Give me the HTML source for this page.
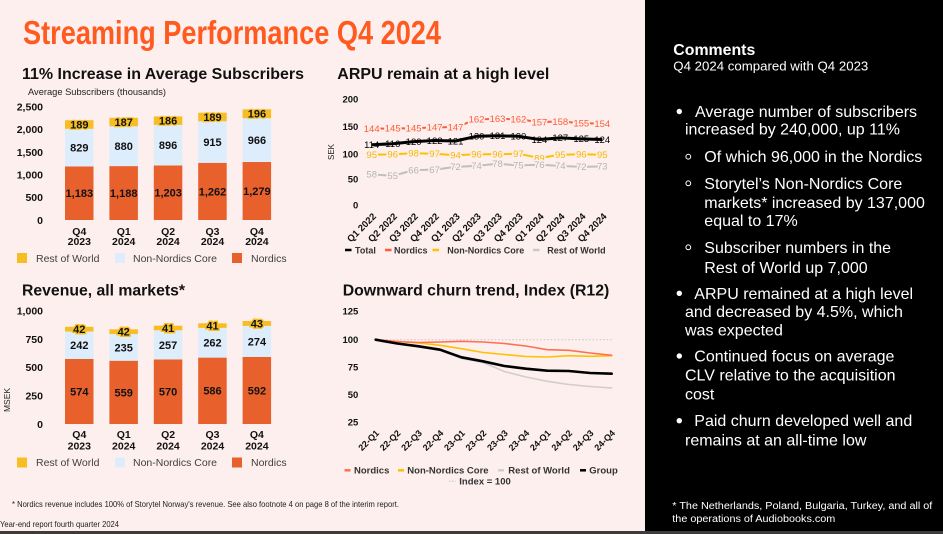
<!DOCTYPE html>
<html><head><meta charset="utf-8"><style>
html,body{margin:0;padding:0;background:#fdefee;}
svg{display:block;font-family:"Liberation Sans",Arial,sans-serif;}
.b{font-weight:bold;}
</style></head><body>
<svg width="943" height="534" viewBox="0 0 943 534" xmlns="http://www.w3.org/2000/svg">
<rect x="0" y="0" width="943" height="534" fill="#fdefee"/>
<!-- Main title -->
<text x="23" y="44" font-size="33" class="b" fill="#ff5a1f" textLength="418" lengthAdjust="spacingAndGlyphs">Streaming Performance Q4 2024</text>

<!-- ===== Subscribers chart ===== -->
<text x="22" y="79" font-size="16" class="b" fill="#111" textLength="282" lengthAdjust="spacingAndGlyphs">11% Increase in Average Subscribers</text>
<text x="28" y="95" font-size="9.3" fill="#222" textLength="138" lengthAdjust="spacingAndGlyphs">Average Subscribers (thousands)</text>
<g font-size="10.5" class="b" fill="#111" text-anchor="end">
<text x="43" y="110.5">2,500</text>
<text x="43" y="133.2">2,000</text>
<text x="43" y="155.9">1,500</text>
<text x="43" y="178.6">1,000</text>
<text x="43" y="201.2">500</text>
<text x="43" y="223.9">0</text>
</g>
<g>
<rect x="65" y="166.4" width="28.5" height="53.6" fill="#e8612d"/>
<rect x="65" y="128.8" width="28.5" height="37.6" fill="#deedfb"/>
<rect x="65" y="120.2" width="28.5" height="8.6" fill="#f6be22"/>
<rect x="109.4" y="166.1" width="28.5" height="53.9" fill="#e8612d"/>
<rect x="109.4" y="126.3" width="28.5" height="39.8" fill="#deedfb"/>
<rect x="109.4" y="117.8" width="28.5" height="8.5" fill="#f6be22"/>
<rect x="153.8" y="165.5" width="28.5" height="54.5" fill="#e8612d"/>
<rect x="153.8" y="124.9" width="28.5" height="40.6" fill="#deedfb"/>
<rect x="153.8" y="116.4" width="28.5" height="8.5" fill="#f6be22"/>
<rect x="198.2" y="162.8" width="28.5" height="57.2" fill="#e8612d"/>
<rect x="198.2" y="121.3" width="28.5" height="41.5" fill="#deedfb"/>
<rect x="198.2" y="112.7" width="28.5" height="8.6" fill="#f6be22"/>
<rect x="242.6" y="162.0" width="28.5" height="58.0" fill="#e8612d"/>
<rect x="242.6" y="118.2" width="28.5" height="43.8" fill="#deedfb"/>
<rect x="242.6" y="109.3" width="28.5" height="8.9" fill="#f6be22"/>
</g>
<g font-size="11" class="b" fill="#111" text-anchor="middle">
<text x="79.3" y="128.4" stroke="#f6be22" stroke-width="2.5" paint-order="stroke">189</text>
<text x="79.3" y="151.5">829</text>
<text x="79.3" y="197.1">1,183</text>
<text x="123.7" y="125.9" stroke="#f6be22" stroke-width="2.5" paint-order="stroke">187</text>
<text x="123.7" y="150.1">880</text>
<text x="123.7" y="196.9">1,188</text>
<text x="168.1" y="124.5" stroke="#f6be22" stroke-width="2.5" paint-order="stroke">186</text>
<text x="168.1" y="149.1">896</text>
<text x="168.1" y="196.6">1,203</text>
<text x="212.5" y="120.9" stroke="#f6be22" stroke-width="2.5" paint-order="stroke">189</text>
<text x="212.5" y="145.9">915</text>
<text x="212.5" y="195.3">1,262</text>
<text x="256.9" y="117.6" stroke="#f6be22" stroke-width="2.5" paint-order="stroke">196</text>
<text x="256.9" y="144.0">966</text>
<text x="256.9" y="194.9">1,279</text>
</g>
<g font-size="10.5" class="b" fill="#111" text-anchor="middle">
<text x="79.3" y="234.8">Q4</text><text x="79.3" y="245.2">2023</text>
<text x="123.7" y="234.8">Q1</text><text x="123.7" y="245.2">2024</text>
<text x="168.1" y="234.8">Q2</text><text x="168.1" y="245.2">2024</text>
<text x="212.5" y="234.8">Q3</text><text x="212.5" y="245.2">2024</text>
<text x="256.9" y="234.8">Q4</text><text x="256.9" y="245.2">2024</text>
</g>
<rect x="17" y="253" width="10" height="10" fill="#f6be22"/>
<rect x="115" y="253" width="10" height="10" fill="#deedfb"/>
<rect x="232" y="253" width="10" height="10" fill="#e8612d"/>
<g font-size="10.5" fill="#404040">
<text x="36" y="261.8">Rest of World</text>
<text x="133" y="261.8">Non-Nordics Core</text>
<text x="251" y="261.8">Nordics</text>
</g>

<!-- ===== Revenue chart ===== -->
<text x="22" y="295.3" font-size="16" class="b" fill="#111" textLength="163" lengthAdjust="spacingAndGlyphs">Revenue, all markets*</text>
<g font-size="10.5" class="b" fill="#111" text-anchor="end">
<text x="43" y="314.5">1,000</text>
<text x="43" y="342.8">750</text>
<text x="43" y="371.1">500</text>
<text x="43" y="399.5">250</text>
<text x="43" y="427.8">0</text>
</g>
<text transform="translate(10,400) rotate(-90)" font-size="8.5" fill="#222" text-anchor="middle">MSEK</text>
<g>
<rect x="65" y="359.0" width="28.5" height="65.0" fill="#e8612d"/>
<rect x="65" y="331.5" width="28.5" height="27.5" fill="#deedfb"/>
<rect x="65" y="326.8" width="28.5" height="4.7" fill="#f6be22"/>
<rect x="109.4" y="360.7" width="28.5" height="63.3" fill="#e8612d"/>
<rect x="109.4" y="334.0" width="28.5" height="26.7" fill="#deedfb"/>
<rect x="109.4" y="329.3" width="28.5" height="4.7" fill="#f6be22"/>
<rect x="153.8" y="359.4" width="28.5" height="64.6" fill="#e8612d"/>
<rect x="153.8" y="330.3" width="28.5" height="29.1" fill="#deedfb"/>
<rect x="153.8" y="325.7" width="28.5" height="4.6" fill="#f6be22"/>
<rect x="198.2" y="357.6" width="28.5" height="66.4" fill="#e8612d"/>
<rect x="198.2" y="327.9" width="28.5" height="29.7" fill="#deedfb"/>
<rect x="198.2" y="323.3" width="28.5" height="4.6" fill="#f6be22"/>
<rect x="242.6" y="356.9" width="28.5" height="67.1" fill="#e8612d"/>
<rect x="242.6" y="325.9" width="28.5" height="31.0" fill="#deedfb"/>
<rect x="242.6" y="321.0" width="28.5" height="4.9" fill="#f6be22"/>
</g>
<g font-size="11" class="b" fill="#111" text-anchor="middle">
<text x="79.3" y="333.1" stroke="#f6be22" stroke-width="3" paint-order="stroke">42</text>
<text x="79.3" y="349.2">242</text>
<text x="79.3" y="395.4">574</text>
<text x="123.7" y="335.6" stroke="#f6be22" stroke-width="3" paint-order="stroke">42</text>
<text x="123.7" y="351.3">235</text>
<text x="123.7" y="396.3">559</text>
<text x="168.1" y="331.9" stroke="#f6be22" stroke-width="3" paint-order="stroke">41</text>
<text x="168.1" y="348.8">257</text>
<text x="168.1" y="395.6">570</text>
<text x="212.5" y="329.5" stroke="#f6be22" stroke-width="3" paint-order="stroke">41</text>
<text x="212.5" y="346.7">262</text>
<text x="212.5" y="394.7">586</text>
<text x="256.9" y="327.4" stroke="#f6be22" stroke-width="3" paint-order="stroke">43</text>
<text x="256.9" y="345.3">274</text>
<text x="256.9" y="394.4">592</text>
</g>
<g font-size="10.5" class="b" fill="#111" text-anchor="middle">
<text x="79.3" y="437.8">Q4</text><text x="79.3" y="449.5">2023</text>
<text x="123.7" y="437.8">Q1</text><text x="123.7" y="449.5">2024</text>
<text x="168.1" y="437.8">Q2</text><text x="168.1" y="449.5">2024</text>
<text x="212.5" y="437.8">Q3</text><text x="212.5" y="449.5">2024</text>
<text x="256.9" y="437.8">Q4</text><text x="256.9" y="449.5">2024</text>
</g>
<rect x="17" y="457.5" width="10" height="10" fill="#f6be22"/>
<rect x="115" y="457.5" width="10" height="10" fill="#deedfb"/>
<rect x="232" y="457.5" width="10" height="10" fill="#e8612d"/>
<g font-size="10.5" fill="#404040">
<text x="36" y="466.2">Rest of World</text>
<text x="133" y="466.2">Non-Nordics Core</text>
<text x="251" y="466.2">Nordics</text>
</g>

<!-- ===== ARPU chart ===== -->
<text x="337.3" y="79" font-size="16" class="b" fill="#111" textLength="212" lengthAdjust="spacingAndGlyphs">ARPU remain at a high level</text>
<g font-size="9.5" class="b" fill="#111" text-anchor="end">
<text x="358.3" y="102.7">200</text>
<text x="358.3" y="130.1">150</text>
<text x="358.3" y="157.7">100</text>
<text x="358.3" y="182.4">50</text>
<text x="358.3" y="208.4">0</text>
</g>
<text transform="translate(334,152) rotate(-90)" font-size="8" fill="#222" text-anchor="middle">SEK</text>
<g fill="none" stroke-linejoin="round">
<polyline stroke="#ff5b35" stroke-width="2" points="371.7,128.9 392.7,128.4 413.6,128.4 434.6,127.3 455.5,127.3 476.5,119.4 497.5,118.9 518.4,119.4 539.4,122.0 560.3,121.5 581.3,123.1 602.3,123.6"/>
<polyline stroke="#000" stroke-width="3" points="371.7,144.8 392.7,143.7 413.6,141.6 434.6,140.5 455.5,141.0 476.5,136.3 497.5,135.8 518.4,136.3 539.4,139.5 560.3,137.9 581.3,138.9 602.3,139.5"/>
<polyline stroke="#ffc000" stroke-width="2" points="371.7,154.8 392.7,154.3 413.6,153.2 434.6,153.7 455.5,155.3 476.5,154.3 497.5,154.3 518.4,153.7 539.4,158.0 560.3,154.8 581.3,154.3 602.3,154.8"/>
<polyline stroke="#bfbfbf" stroke-width="2" points="371.7,174.3 392.7,175.9 413.6,170.1 434.6,169.6 455.5,166.9 476.5,165.9 497.5,163.8 518.4,165.4 539.4,164.8 560.3,165.9 581.3,166.9 602.3,166.4"/>
</g>
<g font-size="9.5" text-anchor="middle" stroke="#fdefee" stroke-width="3" paint-order="stroke">
<g fill="#ff5b35">
<text x="371.7" y="132.2">144</text><text x="392.7" y="131.7">145</text><text x="413.6" y="131.7">145</text><text x="434.6" y="130.6">147</text><text x="455.5" y="130.6">147</text><text x="476.5" y="122.7">162</text><text x="497.5" y="122.2">163</text><text x="518.4" y="122.7">162</text><text x="539.4" y="125.3">157</text><text x="560.3" y="124.8">158</text><text x="581.3" y="126.4">155</text><text x="602.3" y="126.9">154</text>
</g>
<g fill="#f5b800">
<text x="371.7" y="158.1">95</text><text x="392.7" y="157.6">96</text><text x="413.6" y="156.5">98</text><text x="434.6" y="157.0">97</text><text x="455.5" y="158.6">94</text><text x="476.5" y="157.6">96</text><text x="497.5" y="157.6">96</text><text x="518.4" y="157.0">97</text><text x="539.4" y="161.3">89</text><text x="560.3" y="158.1">95</text><text x="581.3" y="157.6">96</text><text x="602.3" y="158.1">95</text>
</g>
<g fill="#b5b5b5">
<text x="371.7" y="177.6">58</text><text x="392.7" y="179.2">55</text><text x="413.6" y="173.4">66</text><text x="434.6" y="172.9">67</text><text x="455.5" y="170.2">72</text><text x="476.5" y="169.2">74</text><text x="497.5" y="167.1">78</text><text x="518.4" y="168.7">75</text><text x="539.4" y="168.1">76</text><text x="560.3" y="169.2">74</text><text x="581.3" y="170.2">72</text><text x="602.3" y="169.7">73</text>
</g>
</g>
<g font-size="9.5" text-anchor="middle" fill="#000">
<text x="371.7" y="148.1">114</text><text x="392.7" y="147.0">116</text><text x="413.6" y="144.9">120</text><text x="434.6" y="143.8">122</text><text x="455.5" y="144.3">121</text><text x="476.5" y="139.6">130</text><text x="497.5" y="139.1">131</text><text x="518.4" y="139.6">130</text><text x="539.4" y="142.8">124</text><text x="560.3" y="141.2">127</text><text x="581.3" y="142.2">125</text><text x="602.3" y="142.8">124</text>
</g>
<g font-size="9.5" class="b" fill="#111" text-anchor="end">
<text transform="translate(376.7,217) rotate(-45)">Q1 2022</text>
<text transform="translate(397.7,217) rotate(-45)">Q2 2022</text>
<text transform="translate(418.6,217) rotate(-45)">Q3 2022</text>
<text transform="translate(439.6,217) rotate(-45)">Q4 2022</text>
<text transform="translate(460.5,217) rotate(-45)">Q1 2023</text>
<text transform="translate(481.5,217) rotate(-45)">Q2 2023</text>
<text transform="translate(502.5,217) rotate(-45)">Q3 2023</text>
<text transform="translate(523.4,217) rotate(-45)">Q4 2023</text>
<text transform="translate(544.4,217) rotate(-45)">Q1 2024</text>
<text transform="translate(565.3,217) rotate(-45)">Q2 2024</text>
<text transform="translate(586.3,217) rotate(-45)">Q3 2024</text>
<text transform="translate(607.3,217) rotate(-45)">Q4 2024</text>
</g>
<g stroke-width="2.5">
<line x1="345" y1="250" x2="351.5" y2="250" stroke="#000"/>
<line x1="385" y1="250" x2="391.5" y2="250" stroke="#ff5b35"/>
<line x1="432.5" y1="250" x2="439" y2="250" stroke="#ffc000"/>
<line x1="533" y1="250" x2="539.5" y2="250" stroke="#c8c8c8"/>
</g>
<g font-size="9" class="b" fill="#333">
<text x="355" y="253.3">Total</text>
<text x="394" y="253.3">Nordics</text>
<text x="447.3" y="253.3">Non-Nordics Core</text>
<text x="547.3" y="253.3">Rest of World</text>
</g>

<!-- ===== Churn chart ===== -->
<text x="342.7" y="295.3" font-size="16" class="b" fill="#111" textLength="266.6" lengthAdjust="spacingAndGlyphs">Downward churn trend, Index (R12)</text>
<g font-size="9.5" class="b" fill="#111" text-anchor="end">
<text x="358.3" y="314.6">125</text>
<text x="358.3" y="343.0">100</text>
<text x="358.3" y="370.6">75</text>
<text x="358.3" y="398.0">50</text>
<text x="358.3" y="425.3">25</text>
</g>
<line x1="375.7" y1="339.7" x2="611.7" y2="339.7" stroke="#cfc8c8" stroke-width="1.2" stroke-dasharray="1.5,2"/>
<g fill="none" stroke-linejoin="round" stroke-linecap="round">
<polyline stroke="#d2cccc" stroke-width="1.6" points="375.7,339.7 397.2,343 418.6,346.5 440.1,350.5 461.5,358.5 483,362.5 504.4,371.5 525.9,377 547.3,381.3 568.8,384.5 590.2,386.5 611.7,388"/>
<polyline stroke="#ffc000" stroke-width="1.6" points="375.7,339.7 397.2,341.5 418.6,343 440.1,345.3 461.5,348.7 483,352.5 504.4,354.5 525.9,356.5 547.3,357 568.8,355.7 590.2,356.3 611.7,355.7"/>
<polyline stroke="#ff7050" stroke-width="1.6" points="375.7,339.7 397.2,341.5 418.6,342.5 440.1,342 461.5,341.3 483,342 504.4,343.5 525.9,346 547.3,349.7 568.8,350.3 590.2,353 611.7,355.3"/>
<polyline stroke="#000" stroke-width="2.6" points="375.7,339.7 397.2,343.5 418.6,346.3 440.1,349.7 461.5,357.3 483,361.3 504.4,366 525.9,368.7 547.3,370.7 568.8,371 590.2,373 611.7,373.7"/>
</g>
<g font-size="9" class="b" fill="#111" text-anchor="end">
<text transform="translate(379.7,433.7) rotate(-45)">22-Q1</text>
<text transform="translate(401.2,433.7) rotate(-45)">22-Q2</text>
<text transform="translate(422.6,433.7) rotate(-45)">22-Q3</text>
<text transform="translate(444.1,433.7) rotate(-45)">22-Q4</text>
<text transform="translate(465.5,433.7) rotate(-45)">23-Q1</text>
<text transform="translate(487,433.7) rotate(-45)">23-Q2</text>
<text transform="translate(508.4,433.7) rotate(-45)">23-Q3</text>
<text transform="translate(529.9,433.7) rotate(-45)">23-Q4</text>
<text transform="translate(551.3,433.7) rotate(-45)">24-Q1</text>
<text transform="translate(572.8,433.7) rotate(-45)">24-Q2</text>
<text transform="translate(594.2,433.7) rotate(-45)">24-Q3</text>
<text transform="translate(615.7,433.7) rotate(-45)">24-Q4</text>
</g>
<g stroke-width="2.5">
<line x1="344.5" y1="470.3" x2="350.5" y2="470.3" stroke="#ff7050"/>
<line x1="398" y1="470.3" x2="404" y2="470.3" stroke="#ffc000"/>
<line x1="498" y1="470.3" x2="504" y2="470.3" stroke="#d2cccc"/>
<line x1="580" y1="470.3" x2="586" y2="470.3" stroke="#000"/>
<line x1="449" y1="481.3" x2="455.5" y2="481.3" stroke="#d2cccc" stroke-width="1.5" stroke-dasharray="1.5,1.5"/>
</g>
<g font-size="9.5" class="b" fill="#333">
<text x="354" y="473.7">Nordics</text>
<text x="407.3" y="473.7">Non-Nordics Core</text>
<text x="508.3" y="473.7">Rest of World</text>
<text x="589.3" y="473.7">Group</text>
<text x="459.3" y="484.7">Index = 100</text>
</g>

<!-- footnotes -->
<text x="12" y="507" font-size="8.5" fill="#222" textLength="387" lengthAdjust="spacingAndGlyphs">* Nordics revenue includes 100% of Storytel Norway's revenue. See also footnote 4 on page 8 of the interim report.</text>
<text x="0" y="527" font-size="8.5" fill="#222" textLength="119" lengthAdjust="spacingAndGlyphs">Year-end report fourth quarter 2024</text>

<!-- ===== Right panel ===== -->
<rect x="645" y="0" width="298" height="531" fill="#000"/>
<rect x="0" y="531" width="943" height="3" fill="#3c3c3c"/>
<g fill="#fff">
<text x="673.3" y="55" font-size="16" class="b" textLength="82" lengthAdjust="spacingAndGlyphs">Comments</text>
<text x="673.3" y="70.5" font-size="13" textLength="195" lengthAdjust="spacingAndGlyphs">Q4 2024 compared with Q4 2023</text>
<circle cx="679.3" cy="111.5" r="2.7"/>
<circle cx="679.3" cy="293.3" r="2.7"/>
<circle cx="679.3" cy="356" r="2.7"/>
<circle cx="679.3" cy="420.7" r="2.7"/>
<g font-size="16">
<text x="695" y="117.2">Average number of subscribers</text>
<text x="685" y="134.5">increased by 240,000, up 11%</text>
<text x="704.3" y="162.2">Of which 96,000 in the Nordics</text>
<text x="704.3" y="188.8">Storytel’s Non-Nordics Core</text>
<text x="704.3" y="208.2">markets* increased by 137,000</text>
<text x="704.3" y="226.2">equal to 17%</text>
<text x="704.3" y="252.8">Subscriber numbers in the</text>
<text x="704.3" y="272.8">Rest of World up 7,000</text>
<text x="694.3" y="298.8">ARPU remained at a high level</text>
<text x="685" y="317.2">and decreased by 4.5%, which</text>
<text x="685" y="335.5">was expected</text>
<text x="694.3" y="361.5">Continued focus on average</text>
<text x="685" y="380.5">CLV relative to the acquisition</text>
<text x="685" y="399.5">cost</text>
<text x="694.3" y="426.2">Paid churn developed well and</text>
<text x="685" y="445.5">remains at an all-time low</text>
</g>
<text x="672.3" y="509.2" font-size="10" textLength="260" lengthAdjust="spacingAndGlyphs">* The Netherlands, Poland, Bulgaria, Turkey, and all of</text>
<text x="672.3" y="521.8" font-size="10" textLength="163" lengthAdjust="spacingAndGlyphs">the operations of Audiobooks.com</text>
</g>
<g fill="none" stroke="#fff" stroke-width="1">
<circle cx="688.3" cy="156.7" r="2.4"/>
<circle cx="688.3" cy="183.3" r="2.4"/>
<circle cx="688.3" cy="247.3" r="2.4"/>
</g>
</svg>
</body></html>
